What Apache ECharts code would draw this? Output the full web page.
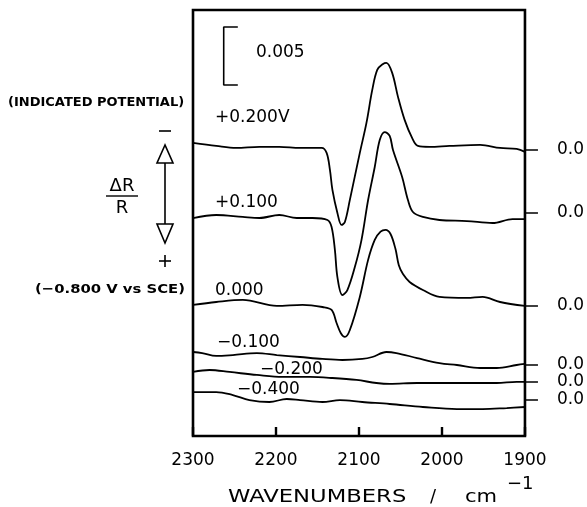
<!DOCTYPE html>
<html>
<head>
<meta charset="utf-8">
<script src="https://cdn.jsdelivr.net/npm/echarts@6/dist/echarts.min.js"></script>
<style>
  html, body { margin: 0; padding: 0; background: #fff; }
  #chart { width: 587px; height: 507px; }
</style>
</head>
<body>
<div id="chart"></div>
<script>
// x: wavenumber / cm-1, y: dR/R in units of 1e-3, relative to each trace's own zero
var trace200 = [[2300,0.60],[2272,0.34],[2248,0.17],[2220,0.26],[2196,0.26],[2171,0.17],[2145,0.17],[2139,-0.26],[2135,-1.72],[2132,-3.45],[2126,-5.43],[2121,-6.47],[2117,-6.21],[2111,-4.31],[2099,-0.26],[2091,2.33],[2084,5.17],[2078,6.90],[2071,7.41],[2067,7.50],[2060,6.64],[2053,4.57],[2045,2.59],[2036,1.03],[2029,0.34],[2015,0.26],[1991,0.34],[1954,0.43],[1930,0.17],[1910,0.09],[1900,-0.17]];
var trace100 = [[2300,-0.43],[2272,-0.17],[2240,-0.34],[2220,-0.43],[2196,-0.17],[2175,-0.43],[2156,-0.43],[2138,-0.60],[2133,-1.21],[2129,-3.19],[2126,-5.52],[2120,-7.07],[2114,-6.64],[2105,-4.66],[2097,-2.33],[2089,1.12],[2081,3.97],[2075,6.29],[2069,6.98],[2063,6.64],[2059,5.43],[2048,3.10],[2041,1.12],[2035,0.09],[2023,-0.34],[2003,-0.60],[1970,-0.69],[1939,-0.86],[1915,-0.52],[1900,-0.52]];
var trace000 = [[2300,0.09],[2272,0.34],[2240,0.52],[2199,0],[2168,0.09],[2144,-0.09],[2133,-0.34],[2127,-1.47],[2122,-2.33],[2117,-2.67],[2111,-2.07],[2099,0.78],[2089,3.97],[2081,5.69],[2074,6.40],[2068,6.55],[2062,6.20],[2056,4.90],[2052,3.50],[2047,2.75],[2039,2.07],[2023,1.38],[2003,0.78],[1970,0.69],[1951,0.78],[1930,0.34],[1900,0]];
var traceM100 = [[2300,1.12],[2289,1.03],[2272,0.78],[2252,0.86],[2223,1.03],[2199,0.86],[2171,0.69],[2144,0.52],[2120,0.43],[2096,0.52],[2084,0.69],[2067,1.12],[2055,1.03],[2030,0.60],[2003,0.17],[1982,0],[1954,-0.26],[1934,-0.26],[1910,0],[1900,0.09]];
var traceM200 = [[2300,0.86],[2280,1.03],[2256,0.86],[2223,0.60],[2192,0.43],[2159,0.43],[2132,0.34],[2103,0.17],[2079,-0.09],[2063,-0.17],[2030,-0.09],[1999,-0.09],[1963,-0.09],[1934,-0.09],[1910,0],[1900,0]];
var traceM400 = [[2300,0.69],[2272,0.69],[2252,0.43],[2232,0],[2208,-0.17],[2187,0.09],[2171,0],[2144,-0.17],[2123,0],[2096,-0.17],[2063,-0.34],[2023,-0.60],[1982,-0.78],[1951,-0.78],[1922,-0.69],[1900,-0.60]];

var potentials = ['+0.200V', '+0.100', '0.000', '\u22120.100', '\u22120.200', '\u22120.400'];
var traces = [trace200, trace100, trace000, traceM100, traceM200, traceM400];
var offsets = [24.66, 19.22, 11.21, 6.12, 4.66, 3.10];   // zero level of each trace
var xTicks = [2300, 2200, 2100, 2000, 1900];
var scaleBar = { at: 2263, top: 35.26, size: 5, cap: 17 };  // 0.005 = 5 units

var chart = echarts.init(document.getElementById('chart'));
var FONT = 'DejaVu Sans';

var series = traces.map(function (t, i) {
  return {
    name: potentials[i],
    type: 'line',
    smooth: 0.35,
    symbol: 'none',
    lineStyle: { color: '#000', width: 1.8 },
    data: t.map(function (p) { return [p[0], p[1] + offsets[i]]; })
  };
});

// scale bar bracket "[ 0.005"
series.push({
  type: 'line',
  symbol: 'none',
  lineStyle: { color: '#000', width: 1.6 },
  data: [
    [scaleBar.at - scaleBar.cap, scaleBar.top],
    [scaleBar.at, scaleBar.top],
    [scaleBar.at, scaleBar.top - scaleBar.size],
    [scaleBar.at - scaleBar.cap, scaleBar.top - scaleBar.size]
  ]
});

function txt(s, x, y, size, opts) {
  opts = opts || {};
  return {
    type: 'text', x: x, y: y,
    scaleX: opts.sx || 1,
    style: {
      text: s, fill: '#000',
      font: (opts.weight || 'normal') + ' ' + size + 'px "' + FONT + '"',
      textAlign: opts.align || 'left', textVerticalAlign: 'middle'
    }
  };
}
function seg(x1, y1, x2, y2, w) {
  return { type: 'line', shape: { x1: x1, y1: y1, x2: x2, y2: y2 }, style: { stroke: '#000', lineWidth: w || 1.6 } };
}

var labelPos = [[215, 118], [215, 203], [215, 291], [217, 343], [260, 370], [237, 390]];

var graphics = [
  txt('0.005', 256, 53, 17),
  txt('(INDICATED POTENTIAL)', 8, 103, 13, { weight: 'bold' }),
  txt('(\u22120.800 V vs SCE)', 35, 290, 13, { weight: 'bold', sx: 1.14 }),
  seg(159, 131, 171, 131),
  { type: 'polygon', shape: { points: [[165, 145], [157, 163], [173, 163]] }, style: { stroke: '#000', fill: 'none', lineWidth: 1.6 } },
  seg(165, 163, 165, 224),
  { type: 'polygon', shape: { points: [[157, 224], [173, 224], [165, 243]] }, style: { stroke: '#000', fill: 'none', lineWidth: 1.6 } },
  seg(159, 261, 171, 261),
  seg(165, 255, 165, 267),
  txt('\u0394R', 122, 186, 18, { align: 'center' }),
  seg(106, 196, 138, 196, 1.4),
  txt('R', 122, 208, 18, { align: 'center' }),
  txt('WAVENUMBERS', 228, 497, 18, { sx: 1.26 }),
  txt('/', 433, 497, 18, { align: 'center' }),
  txt('cm', 465, 497, 18, { sx: 1.17 }),
  txt('\u22121', 507, 484, 18)
];
potentials.forEach(function (p, i) {
  graphics.push(txt(p, labelPos[i][0], labelPos[i][1], 17));
});

chart.setOption({
  animation: false,
  backgroundColor: '#fff',
  grid: {
    left: 193, right: 62, top: 10, bottom: 71,
    show: true, borderColor: '#000', borderWidth: 2.6
  },
  xAxis: {
    type: 'value',
    min: 1900, max: 2300, interval: 100,
    inverse: true,
    axisLine: { show: false },
    axisTick: { show: true, inside: true, length: 9, lineStyle: { color: '#000', width: 2.4 } },
    axisLabel: {
      color: '#000', fontSize: 17, fontFamily: FONT, margin: 16,
      customValues: xTicks,
      formatter: function (v) { return String(v); }
    },
    splitLine: { show: false }
  },
  yAxis: {
    type: 'value',
    position: 'right',
    min: 0, max: 36.72,
    axisLine: { show: false },
    axisTick: { show: true, length: 13, customValues: offsets, lineStyle: { color: '#000', width: 1.5 } },
    axisLabel: {
      color: '#000', fontSize: 17, fontFamily: FONT, margin: 32,
      customValues: offsets,
      formatter: function () { return '0.0'; }
    },
    splitLine: { show: false }
  },
  series: series,
  graphic: graphics
});

window.addEventListener('resize', function () {
  chart.resize();
});
</script>
</body>
</html>
